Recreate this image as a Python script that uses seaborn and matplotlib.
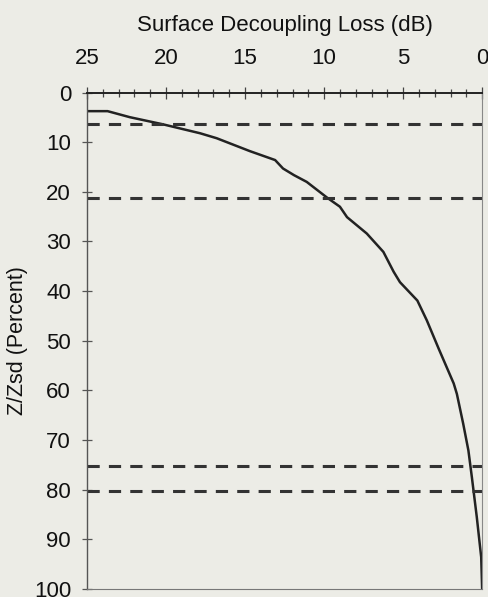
import matplotlib
matplotlib.use('Agg')
import matplotlib.pyplot as plt
import seaborn as sns
from matplotlib.ticker import MultipleLocator

# Curve
loss_db = [25.0, 23.7, 22.3, 20.2, 17.85, 16.8, 14.7, 13.1, 12.6, 11.9, 11.1, 9.8, 9.0,
           8.55, 7.3, 6.25, 5.6, 5.2, 4.1, 3.5, 2.75, 1.8, 1.6, 1.2, 0.87, 0.65, 0.34, 0.06, 0.0]
depth_pct = [3.75, 3.75, 4.96, 6.4, 8.2, 9.2, 11.8, 13.6, 15.3, 16.65, 18.0, 21.2, 23.0,
             25.1, 28.4, 32.1, 36.1, 38.2, 41.9, 45.9, 51.6, 58.6, 60.7, 66.7, 72.1, 77.5,
             85.5, 93.6, 100.0]

# Dashed reference depths
ref_depths = [6.3, 21.2, 75.3, 80.2]

x_ticks = [25, 20, 15, 10, 5, 0]
y_ticks = [0, 10, 20, 30, 40, 50, 60, 70, 80, 90, 100]

sns.set_theme(style='white')
plt.rcParams['font.family'] = ['Liberation Sans', 'DejaVu Sans']

bg = '#ecece6'
fig = plt.figure(figsize=(4.89, 5.97), dpi=100, facecolor=bg)
ax = fig.add_axes([0.178, 0.0134, 0.808, 0.8316])
ax.set_facecolor(bg)

sns.lineplot(x=loss_db, y=depth_pct, sort=False, color='#222222', linewidth=1.8, ax=ax)

for d in ref_depths:
    ax.axhline(d, color='#333333', linewidth=2.2, linestyle=(0, (4, 3)))

ax.set_xlim(25, 0)
ax.set_ylim(100, 0)
ax.xaxis.tick_top()
ax.xaxis.set_label_position('top')
ax.set_xticks(x_ticks)
ax.set_yticks(y_ticks)
ax.xaxis.set_minor_locator(MultipleLocator(1))
ax.tick_params(axis='x', which='both', top=True, bottom=False, direction='inout',
               length=8, width=0.9, colors='#444444', labelcolor='#111111',
               labelsize=16, pad=13)
ax.tick_params(axis='x', which='minor', length=6)
ax.tick_params(axis='y', which='major', left=True, right=False, direction='inout',
               length=7, width=0.9, colors='#555555', labelcolor='#111111',
               labelsize=16, pad=8)

ax.set_xlabel('Surface Decoupling Loss (dB)', fontsize=16, color='#111111', labelpad=12)
ax.set_ylabel('Z/Zsd (Percent)', fontsize=15.5, color='#111111', labelpad=4)

ax.spines['top'].set_color('#222222')
ax.spines['top'].set_linewidth(1.4)
ax.spines['left'].set_color('#555555')
ax.spines['left'].set_linewidth(1.0)
ax.spines['right'].set_color('#888888')
ax.spines['right'].set_linewidth(0.8)
ax.spines['right'].set_linestyle((0, (2, 1)))
ax.spines['bottom'].set_color('#777777')
ax.spines['bottom'].set_linewidth(0.8)

fig.savefig('out.png', dpi=100, facecolor=bg)
